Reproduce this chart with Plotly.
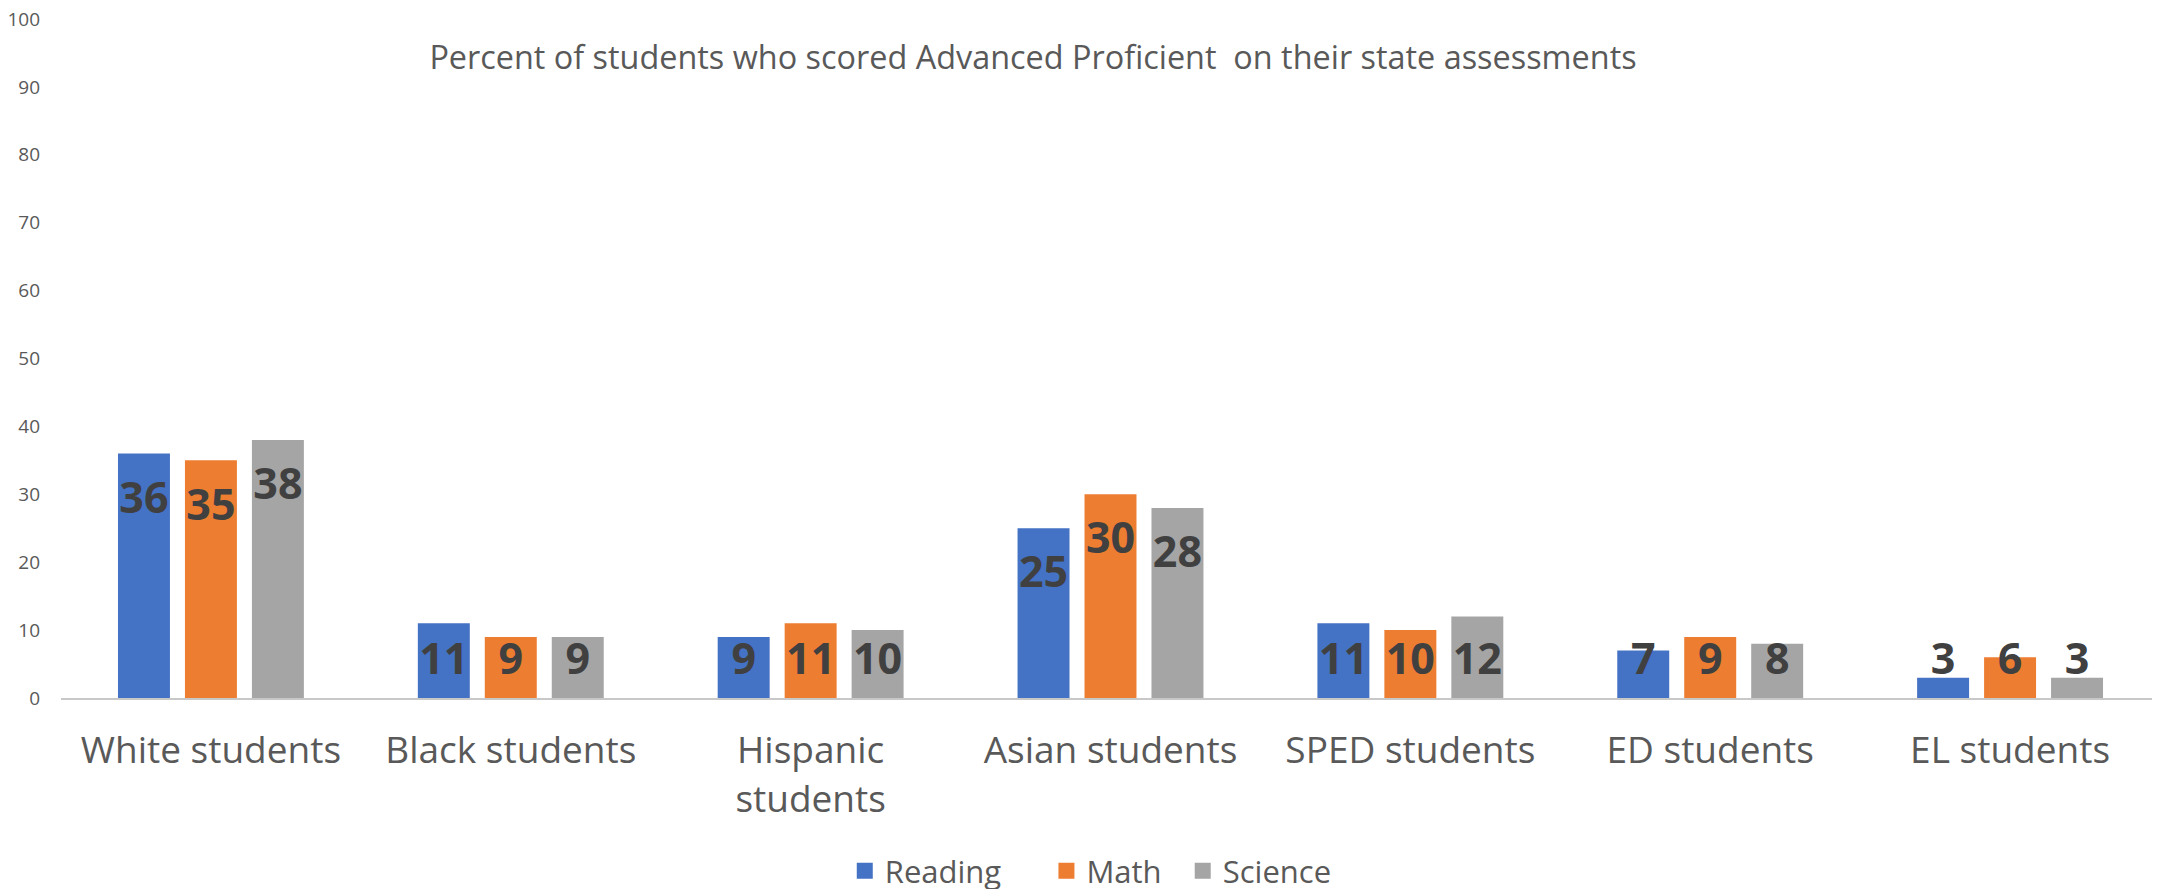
import plotly.graph_objects as go

# ---- data ----
categories = ["White students", "Black students", "Hispanic<br>students", "Asian students",
              "SPED students", "ED students", "EL students"]
reading = [36, 11, 9, 25, 11, 7, 3]
math = [35, 9, 11, 30, 10, 9, 6]
science = [38, 9, 10, 28, 12, 8, 3]
series_names = ["Reading", "Math", "Science"]
y_ticks = [0, 10, 20, 30, 40, 50, 60, 70, 80, 90, 100]
title_text = "Percent of students who scored Advanced Proficient  on their state assessments"

# ---- style ----
colors = ["#4472C4", "#ED7D31", "#A5A5A5"]
grey_text = "#595959"
label_color = "#404040"
LABEL_MIN = 12.3   # labels on short bars are held at this level
LABEL_DROP = 1.5   # labels sit a little below the bar top
NBSP = "\u00a0"
legend_pad = [5, 2, 0]

series = [reading, math, science]

fig = go.Figure()
for name, vals, col in zip(series_names, series, colors):
    fig.add_trace(go.Bar(
        x=categories, y=vals, name=name,
        marker=dict(color=col, line=dict(width=0)),
        offsetgroup=name, hoverinfo="x+y", showlegend=False,
    ))

for name, vals in zip(series_names, series):
    fig.add_trace(go.Bar(
        x=categories,
        y=[max(v, LABEL_MIN) - LABEL_DROP for v in vals],
        text=[str(v) for v in vals],
        textposition="inside", insidetextanchor="end",
        constraintext="none", textangle=0,
        insidetextfont=dict(family="Open Sans", size=43, color=label_color, weight="bold"),
        textfont=dict(family="Open Sans", size=43, color=label_color, weight="bold"),
        marker=dict(color="rgba(0,0,0,0)", line=dict(width=0)),
        offsetgroup=name, showlegend=False, hoverinfo="skip",
    ))

# legend entries (square swatches)
for name, col, pad in zip(series_names, colors, legend_pad):
    fig.add_trace(go.Scatter(
        x=[None], y=[None], mode="markers", name=name + NBSP * pad,
        marker=dict(symbol="square", size=16, color=col),
        showlegend=True, hoverinfo="skip",
    ))

fig.update_layout(
    width=2152, height=901, autosize=False,
    paper_bgcolor="white", plot_bgcolor="white",
    margin=dict(l=53, r=0, t=11, b=211, pad=0),
    barmode="group", bargap=0.33, bargroupgap=0.224,
    title=dict(text=title_text, x=1025 / 2152, xanchor="center", y=1 - 50 / 901, yanchor="middle",
               font=dict(family="Open Sans", size=32.4, color=grey_text)),
    legend=dict(orientation="h", x=0.3734, xanchor="left", y=-0.2548, yanchor="middle",
                font=dict(family="Open Sans", size=31, color=grey_text),
                bgcolor="rgba(0,0,0,0)", traceorder="normal", itemsizing="trace"),
    font=dict(family="Open Sans", color=grey_text),
    showlegend=True,
)
fig.update_xaxes(
    showgrid=False, showline=True, linecolor="#C8C8C8", linewidth=2,
    ticks="", tickfont=dict(family="Open Sans", size=37, color=grey_text),
    ticklabelstandoff=19, tickangle=0, automargin=False,
)
fig.update_yaxes(
    range=[0, 100], tickvals=y_ticks, showgrid=False, showline=False, zeroline=False,
    ticks="", tickfont=dict(family="Open Sans", size=19, color=grey_text),
    ticklabelstandoff=20, ticklabeloverflow="allow", automargin=False,
)

fig.write_html("out.html")
